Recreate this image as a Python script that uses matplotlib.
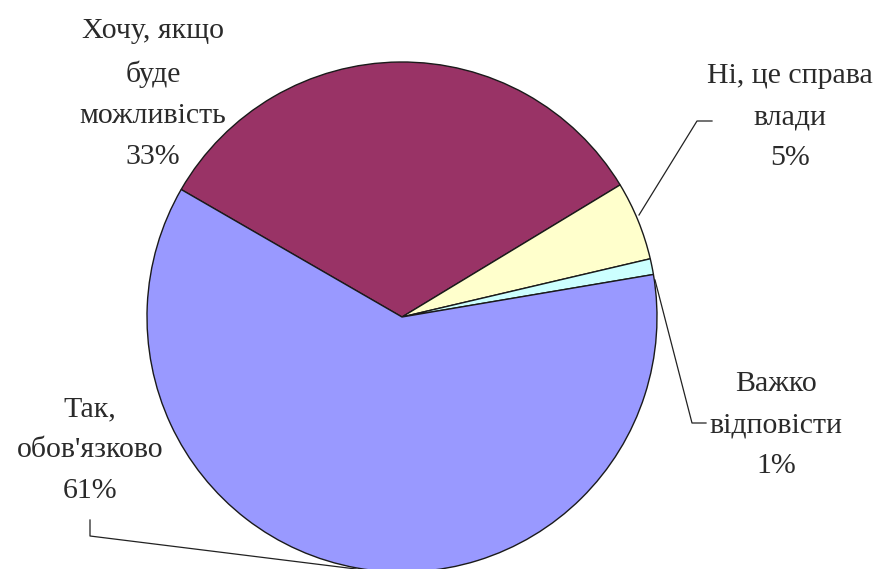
import matplotlib.pyplot as plt

# Data
labels = ['Хочу, якщо\nбуде\nможливість', 'Ні, це справа\nвлади', 'Важко\nвідповісти', 'Так,\nобов\'язково']
values = [33, 5, 1, 61]
colors = ['#993366', '#FFFFCC', '#CCFFFF', '#9999FF']

W, H = 895, 569

fig = plt.figure(figsize=(W / 100, H / 100), dpi=100)
ax = fig.add_axes([0, 0, 1, 1])

# pie drawn in pixel-like units (y up)
ax.pie(values, colors=colors, startangle=150, counterclock=False,
       center=(402, H - 317), radius=255,
       wedgeprops=dict(edgecolor='#1a1a1a', linewidth=1.0))
ax.set_xlim(0, W)
ax.set_ylim(0, H)
ax.set_aspect('equal')
ax.axis('off')

# label positions (pixel coords, y down) and leader lines
text_pos = [(153, 94), (790, 117), (776, 425), (90, 450)]
leaders = [
    None,
    [(639, 215), (697, 121), (712, 121)],
    [(655, 280), (692, 423), (706, 423)],
    [(356, 569), (90, 536), (90, 520)],
]

for lab, v, (tx, ty), ld in zip(labels, values, text_pos, leaders):
    ax.text(tx, H - ty, f'{lab}\n{v}%', ha='center', va='center',
            fontsize=21.5, family='Liberation Serif', color='#2a2a2a',
            linespacing=1.75)
    if ld:
        ax.plot([p[0] for p in ld], [H - p[1] for p in ld],
                color='#222222', linewidth=0.9, clip_on=False)

fig.savefig('out.png', dpi=100)
